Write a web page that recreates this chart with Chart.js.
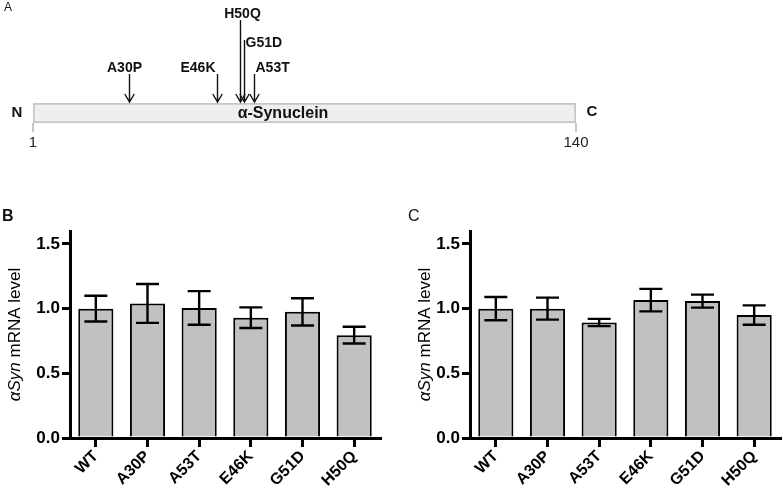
<!DOCTYPE html>
<html>
<head>
<meta charset="utf-8">
<script src="https://cdn.jsdelivr.net/npm/chart.js@4.4.1/dist/chart.umd.min.js"></script>
<style>
    html, body { margin: 0; padding: 0; background: #fff; }
    body { position: relative; width: 783px; height: 491px; overflow: hidden; }
    canvas { position: absolute; }
</style>
</head>
<body>
<canvas id="panelA" width="783" height="160" style="left:0;top:0"></canvas>
<canvas id="panelB" width="390" height="301" style="left:0;top:190px"></canvas>
<canvas id="panelC" width="383" height="301" style="left:400px;top:190px"></canvas>
<script>
// panel A: schematic of the protein and its mutation sites (positions as drawn)
var proteinRange = [1, 140];
var mutations = ['A30P', 'E46K', 'H50Q', 'G51D', 'A53T'];
var mutationMarks = [25.5, 48.1, 54.0, 55.0, 57.6];

// panels B and C: mRNA level, mean and SEM
var variants = ['WT', 'A30P', 'A53T', 'E46K', 'G51D', 'H50Q'];
var mrnaB = [1.00, 1.04, 1.005, 0.93, 0.975, 0.795];
var semB = [0.10, 0.15, 0.13, 0.08, 0.105, 0.065];
var mrnaC = [1.00, 1.00, 0.893, 1.066, 1.058, 0.95];
var semC = [0.09, 0.085, 0.028, 0.087, 0.05, 0.075];
var yTicks = [0, 0.5, 1.0, 1.5];

var SynFigure = (function () {
    'use strict';

    var FONT = '"Liberation Sans", Arial, sans-serif';

    // how each mutation arrow and its label sit (style only)
    var arrowStyle = {
        A30P: { top: 74, labelY: 68, align: 'center', dx: -5 },
        E46K: { top: 74, labelY: 68, align: 'right', dx: -2 },
        H50Q: { top: 20, labelY: 14, align: 'center', dx: 2 },
        G51D: { top: 40, labelY: 43, align: 'left', dx: 1 },
        A53T: { top: 74, labelY: 68, align: 'left', dx: 1 }
    };

    var proteinDecor = {
        id: 'proteinDecor',
        afterDraw: function (chart) {
            var ctx = chart.ctx;
            var xScale = chart.scales.x;
            var tipY = 102;

            ctx.save();
            ctx.fillStyle = '#111';
            ctx.textBaseline = 'middle';

            ctx.font = '12px ' + FONT;
            ctx.textAlign = 'left';
            ctx.fillText('A', 4, 8);

            ctx.font = 'bold 15px ' + FONT;
            ctx.textAlign = 'center';
            ctx.fillText('N', 17, 113);
            ctx.fillText('C', 592, 112);

            ctx.font = 'bold 16px ' + FONT;
            ctx.fillText('α-Synuclein', 283, 114);

            ctx.strokeStyle = '#111';
            ctx.lineWidth = 1.4;
            mutations.forEach(function (name, i) {
                var st = arrowStyle[name];
                var x = Math.round(xScale.getPixelForValue(mutationMarks[i])) + 0.5;
                ctx.beginPath();
                ctx.moveTo(x, st.top);
                ctx.lineTo(x, tipY);
                ctx.moveTo(x - 4.7, tipY - 8);
                ctx.lineTo(x, tipY);
                ctx.lineTo(x + 4.7, tipY - 8);
                ctx.stroke();

                ctx.font = 'bold 14px ' + FONT;
                ctx.textAlign = st.align;
                ctx.fillText(name, x + st.dx, st.labelY);
            });
            ctx.restore();
        }
    };

    var barDecor = {
        id: 'barDecor',
        afterDatasetsDraw: function (chart, args, opts) {
            var ctx = chart.ctx;
            var yScale = chart.scales.y;
            var area = chart.chartArea;
            var meta = chart.getDatasetMeta(0);
            var values = chart.data.datasets[0].data;

            ctx.save();
            ctx.strokeStyle = '#000';
            ctx.lineWidth = 2.4;
            meta.data.forEach(function (bar, i) {
                var hi = yScale.getPixelForValue(values[i] + opts.errors[i]);
                var lo = yScale.getPixelForValue(values[i] - opts.errors[i]);
                ctx.beginPath();
                ctx.moveTo(bar.x, hi);
                ctx.lineTo(bar.x, lo);
                ctx.moveTo(bar.x - 11.5, hi);
                ctx.lineTo(bar.x + 11.5, hi);
                ctx.moveTo(bar.x - 11.5, lo);
                ctx.lineTo(bar.x + 11.5, lo);
                ctx.stroke();
            });

            // panel letter
            ctx.fillStyle = '#111';
            ctx.textBaseline = 'middle';
            ctx.textAlign = 'left';
            ctx.font = (opts.letterBold ? 'bold ' : '') + '16px ' + FONT;
            ctx.fillText(opts.letter, opts.letterX, 27);

            // y title: italic gene name, then plain text
            var part1 = 'αSyn';
            var part2 = ' mRNA level';
            var f1 = 'italic 17px ' + FONT;
            var f2 = '17px ' + FONT;
            ctx.font = f1;
            var w1 = ctx.measureText(part1).width;
            ctx.font = f2;
            var w2 = ctx.measureText(part2).width;
            ctx.translate(opts.titleX, (area.top + area.bottom) / 2);
            ctx.rotate(-Math.PI / 2);
            ctx.fillStyle = '#000';
            ctx.font = f1;
            ctx.fillText(part1, -(w1 + w2) / 2, 0);
            ctx.font = f2;
            ctx.fillText(part2, -(w1 + w2) / 2 + w1, 0);
            ctx.restore();
        }
    };

    var loadProteinMap = function (selector) {
        var context = document.getElementById(selector);
        return new Chart(context, {
            type: 'bar',
            data: {
                labels: ['α-Synuclein'],
                datasets: [{
                    data: [proteinRange],
                    backgroundColor: '#efefef',
                    borderColor: '#c6c6c6',
                    borderWidth: 2,
                    borderSkipped: false,
                    barThickness: 20
                }]
            },
            options: {
                indexAxis: 'y',
                responsive: false,
                animation: false,
                layout: { padding: { top: 103, left: 33, right: 207, bottom: 0 } },
                plugins: { legend: { display: false }, tooltip: { enabled: false } },
                scales: {
                    x: {
                        type: 'linear',
                        min: proteinRange[0],
                        max: proteinRange[1],
                        afterBuildTicks: function (scale) {
                            scale.ticks = proteinRange.map(function (v) { return { value: v }; });
                        },
                        grid: { drawOnChartArea: false, drawTicks: true, tickLength: 9, color: '#c6c6c6', lineWidth: 2 },
                        border: { display: false },
                        ticks: { color: '#222', padding: 2, font: { family: FONT, size: 15 } },
                        afterFit: function (scale) { scale.height = 37; }
                    },
                    y: { display: false }
                }
            },
            plugins: [proteinDecor]
        });
    };

    var loadMrnaPanel = function (selector, values, errors, letter, letterBold, letterX, titleX, padRight) {
        var context = document.getElementById(selector);
        return new Chart(context, {
            type: 'bar',
            data: {
                labels: variants,
                datasets: [{
                    data: values,
                    backgroundColor: '#c1c1c1',
                    borderColor: '#000',
                    borderWidth: 2,
                    categoryPercentage: 1,
                    barPercentage: 0.68
                }]
            },
            options: {
                responsive: false,
                animation: false,
                layout: { padding: { top: 41, right: padRight, left: 0, bottom: 0 } },
                plugins: {
                    legend: { display: false },
                    tooltip: { enabled: false },
                    barDecor: { errors: errors, letter: letter, letterBold: letterBold, letterX: letterX, titleX: titleX }
                },
                scales: {
                    x: {
                        grid: { offset: false, drawOnChartArea: false, drawTicks: true, tickLength: 9, color: '#000', lineWidth: 3 },
                        border: { display: true, color: '#000', width: 3 },
                        ticks: {
                            autoSkip: false, maxRotation: 45, minRotation: 45, padding: 0, color: '#000',
                            font: { family: FONT, size: 16, weight: 'bold' }
                        },
                        afterFit: function (scale) { scale.height = 53; }
                    },
                    y: {
                        min: 0,
                        max: 1.6,
                        afterBuildTicks: function (scale) {
                            scale.ticks = yTicks.map(function (v) { return { value: v }; });
                        },
                        grid: { drawOnChartArea: false, drawTicks: true, tickLength: 8, color: '#000', lineWidth: 3 },
                        border: { display: true, color: '#000', width: 3 },
                        ticks: {
                            padding: 2, color: '#000',
                            font: { family: FONT, size: 17, weight: 'bold' },
                            callback: function (value) { return Number(value).toFixed(1); }
                        },
                        afterFit: function (scale) { scale.width = 70; }
                    }
                }
            },
            plugins: [barDecor]
        });
    };

    return {
        loadProteinMap: loadProteinMap,
        loadMrnaPanel: loadMrnaPanel
    };
})();

SynFigure.loadProteinMap('panelA');
SynFigure.loadMrnaPanel('panelB', mrnaB, semB, 'B', true, 2, 15, 10);
SynFigure.loadMrnaPanel('panelC', mrnaC, semC, 'C', false, 8, 25, 3);
</script>
</body>
</html>
